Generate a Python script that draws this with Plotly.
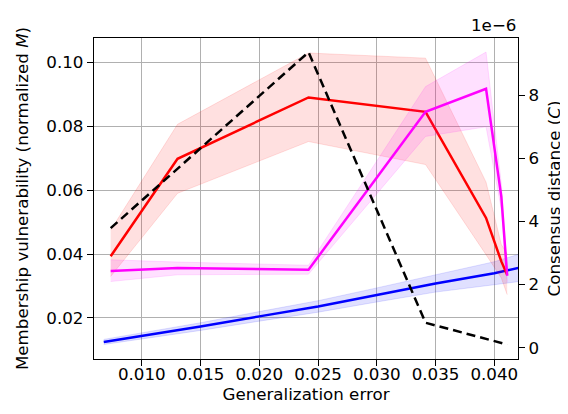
import plotly.graph_objects as go

# shared x (generalization error)
gen_err = [0.00735, 0.01304, 0.02419, 0.03415, 0.0393, 0.0406, 0.0411]

# red series (membership vulnerability)
red_mean = [0.0393, 0.0698, 0.0890, 0.0845, 0.0513, 0.0377, 0.0335]
red_low = [0.0330, 0.0590, 0.0752, 0.0680, 0.0398, 0.0325, 0.0273]
red_high = [0.0475, 0.0806, 0.1029, 0.1013, 0.0625, 0.0430, 0.0400]

# magenta series
mag_mean = [0.0347, 0.0356, 0.0351, 0.0845, 0.0917, 0.0580, 0.0332]
mag_low = [0.0314, 0.0335, 0.0337, 0.0768, 0.0798, 0.0540, 0.0312]
mag_high = [0.0382, 0.0375, 0.0365, 0.0924, 0.1032, 0.0620, 0.0352]

# blue series
blue_x = [0.00676, 0.010, 0.015, 0.020, 0.025, 0.030, 0.035, 0.040, 0.0425]
blue_mean = [0.0125, 0.0144, 0.0173, 0.0205, 0.0236, 0.0272, 0.0308, 0.0340, 0.0360]
blue_half = [0.0008, 0.0010, 0.0012, 0.0015, 0.0018, 0.0022, 0.0027, 0.0036, 0.0044]

# consensus distance (right axis, x1e-6)
consensus = [3.79, 5.68, 9.37, 0.79, 0.27, 0.15, 0.10]

x_ticks = [0.010, 0.015, 0.020, 0.025, 0.030, 0.035, 0.040]
y_ticks = [0.02, 0.04, 0.06, 0.08, 0.10]
y2_ticks = [0, 2, 4, 6, 8]

FONT = "DejaVu Sans"
FS = 16.7
X_RANGE = [0.00593, 0.04202]
fig = go.Figure()

def band(x, lo, hi, fillcol, edgecol):
    fig.add_trace(go.Scatter(x=x, y=lo, mode="lines", line=dict(color=edgecol, width=1),
                             showlegend=False, hoverinfo="skip"))
    fig.add_trace(go.Scatter(x=x, y=hi, mode="lines", line=dict(color=edgecol, width=1),
                             fill="tonexty", fillcolor=fillcol, showlegend=False, hoverinfo="skip"))

blue_lo = [m - h for m, h in zip(blue_mean, blue_half)]
blue_hi = [m + h for m, h in zip(blue_mean, blue_half)]
band(blue_x, blue_lo, blue_hi, "rgba(0,0,255,0.12)", "rgba(0,0,255,0.12)")
fig.add_trace(go.Scatter(x=blue_x, y=blue_mean, mode="lines", line=dict(color="#0000ff", width=2.5),
                         showlegend=False))

band(gen_err, red_low, red_high, "rgba(255,0,0,0.12)", "rgba(255,0,0,0.12)")
fig.add_trace(go.Scatter(x=gen_err, y=red_mean, mode="lines", line=dict(color="#ff0000", width=2.5),
                         showlegend=False))

band(gen_err, mag_low, mag_high, "rgba(255,0,255,0.12)", "rgba(255,0,255,0.12)")
fig.add_trace(go.Scatter(x=gen_err, y=mag_mean, mode="lines", line=dict(color="#ff00ff", width=2.5),
                         showlegend=False))

fig.add_trace(go.Scatter(x=gen_err, y=consensus, mode="lines", yaxis="y2",
                         line=dict(color="black", width=2.5, dash="9px,5px"), showlegend=False))

# invisible trace holding the tick-mark-only x axis
fig.add_trace(go.Scatter(x=gen_err, y=red_mean, mode="lines", xaxis="x2",
                         line=dict(color="rgba(0,0,0,0)", width=0), showlegend=False, hoverinfo="skip"))

axis_common = dict(showline=True, linecolor="black", linewidth=1.4, ticks="outside",
                   ticklen=6, tickwidth=1.3, tickcolor="black", zeroline=False, automargin=False,
                   tickfont=dict(family=FONT, size=FS, color="black"))

fig.update_layout(
    width=568, height=414,
    margin=dict(l=86, r=58, t=30, b=63, autoexpand=False),
    paper_bgcolor="white", plot_bgcolor="white",
    font=dict(family=FONT, size=FS, color="black"),
    xaxis=dict(range=X_RANGE, tickvals=x_ticks, tickformat=".3f", mirror=True,
               showline=True, linecolor="black", linewidth=1.4, ticks="", zeroline=False,
               automargin=False,
               tickfont=dict(family=FONT, size=FS, color="black"),
               showgrid=True, gridcolor="#b0b0b0", gridwidth=1.3,
               title=dict(text="Generalization error", font=dict(family=FONT, size=FS), standoff=5)),
    xaxis2=dict(range=X_RANGE, tickvals=x_ticks, overlaying="x", side="bottom", anchor="y",
                ticks="outside", ticklen=6, tickwidth=1.3, tickcolor="black", automargin=False,
                showticklabels=False, showgrid=False, showline=False, zeroline=False),
    yaxis=dict(range=[0.00716, 0.1076], tickvals=y_ticks, tickformat=".2f", mirror=True,
               showgrid=True, gridcolor="#b0b0b0", gridwidth=1.3,
               title=dict(text="Membership vulnerability (normalized <i>M</i>)",
                          font=dict(family=FONT, size=FS), standoff=13),
               **axis_common),
    yaxis2=dict(range=[-0.36, 9.82], tickvals=y2_ticks, overlaying="y", side="right",
                showgrid=False,
                title=dict(text="Consensus distance (<i>C</i>)", font=dict(family=FONT, size=FS), standoff=10),
                **axis_common),
    annotations=[dict(text="1e\u22126", xref="paper", yref="paper", x=1.0, y=1.0,
                      xanchor="right", yanchor="bottom", yshift=1, showarrow=False,
                      font=dict(family=FONT, size=FS, color="black"))],
)

fig.write_html("out.html")
